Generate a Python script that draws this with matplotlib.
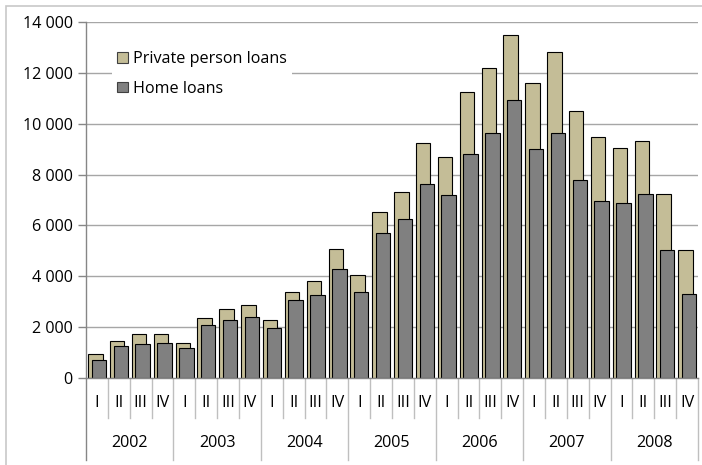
import matplotlib
matplotlib.use("Agg")
import matplotlib.pyplot as plt
from matplotlib.patches import Rectangle, Patch
import matplotlib.transforms as mtransforms

years = ["2002", "2003", "2004", "2005", "2006", "2007", "2008"]
quarters = ["I", "II", "III", "IV"]
private_loans = [950, 1450, 1720, 1720,
                 1360, 2350, 2700, 2880,
                 2270, 3390, 3810, 5060,
                 4040, 6530, 7300, 9230,
                 8700, 11230, 12180, 13500,
                 11610, 12820, 10490, 9460,
                 9030, 9320, 7220, 5030]
home_loans = [710, 1250, 1350, 1370,
              1170, 2080, 2270, 2390,
              1980, 3050, 3250, 4300,
              3370, 5710, 6260, 7640,
              7180, 8800, 9650, 10940,
              9000, 9620, 7800, 6950,
              6870, 7220, 5020, 3290]
yticks = [0, 2000, 4000, 6000, 8000, 10000, 12000, 14000]
ytick_labels = ["0", "2 000", "4 000", "6 000", "8 000", "10 000", "12 000", "14 000"]

tan = "#C4BD97"
gray = "#808080"
grid_c = "#A6A6A6"
font = "Open Sans"
fs = 11.6

W, H = 702, 465
fig = plt.figure(figsize=(W / 100, H / 100), dpi=100)
fig.patch.set_facecolor("white")

# chart area border
fig.patches.append(Rectangle((6 / W, -0.1), 2.0, 1.1 - 6 / H, transform=fig.transFigure,
                             fill=False, edgecolor="#C8C8C8", linewidth=1.2))

ax = fig.add_axes([86 / W, (H - 378) / H, 612 / W, 356 / H])
n = len(private_loans)
ax.set_xlim(0, n)
ax.set_ylim(0, 14000)

xs = list(range(n))
ax.bar([x + 0.10 for x in xs], private_loans, width=0.66, align="edge",
       color=tan, edgecolor="black", linewidth=0.8, zorder=3)
ax.bar([x + 0.26 for x in xs], home_loans, width=0.66, align="edge",
       color=gray, edgecolor="black", linewidth=0.8, zorder=4)

ax.set_yticks(yticks)
ax.set_yticklabels(ytick_labels, fontfamily=font, fontsize=fs)
ax.tick_params(axis="y", length=6, width=1, color="#868686", pad=3.5)
ax.set_xticks([])
for y in yticks[1:]:
    ax.axhline(y, color=grid_c, linewidth=1, zorder=1)

for s in ["top", "right", "bottom", "left"]:
    ax.spines[s].set_visible(False)

trans = mtransforms.blended_transform_factory(ax.transData, ax.transAxes)
px = 1 / 356.0
# baseline
ax.plot([0, n], [0, 0], transform=trans, color="#868686", linewidth=1, clip_on=False, zorder=5)
# left axis line extended
ax.plot([0, 0], [1, -82 * px], transform=trans, color="#868686", linewidth=1, clip_on=False, zorder=5)
# separators
for i in range(1, n + 1):
    if i % 4 == 0:
        ax.plot([i, i], [0, -82 * px], transform=trans, color="#BFBFBF", linewidth=1, clip_on=False)
    else:
        ax.plot([i, i], [0, -40 * px], transform=trans, color="#BFBFBF", linewidth=1, clip_on=False)

for i in range(n):
    ax.text(i + 0.5, -25 * px, quarters[i % 4], transform=trans, ha="center", va="center",
            fontfamily=font, fontsize=fs)
for j, yr in enumerate(years):
    ax.text(4 * j + 2, -65 * px, yr, transform=trans, ha="center", va="center",
            fontfamily=font, fontsize=fs)

handles = [Patch(facecolor=tan, edgecolor="#404040", linewidth=0.8, label="Private person loans"),
           Patch(facecolor=gray, edgecolor="#404040", linewidth=0.8, label="Home loans")]
leg = ax.legend(handles=handles, loc="upper left", bbox_to_anchor=(0.03, 0.955),
                frameon=True, facecolor="white", edgecolor="none", fancybox=False,
                prop={"family": font, "size": fs}, handlelength=0.66, handleheight=0.66,
                handletextpad=0.33, labelspacing=0.85, borderpad=0.3, framealpha=1)
leg.set_zorder(6)

fig.savefig("out.png", dpi=100)
